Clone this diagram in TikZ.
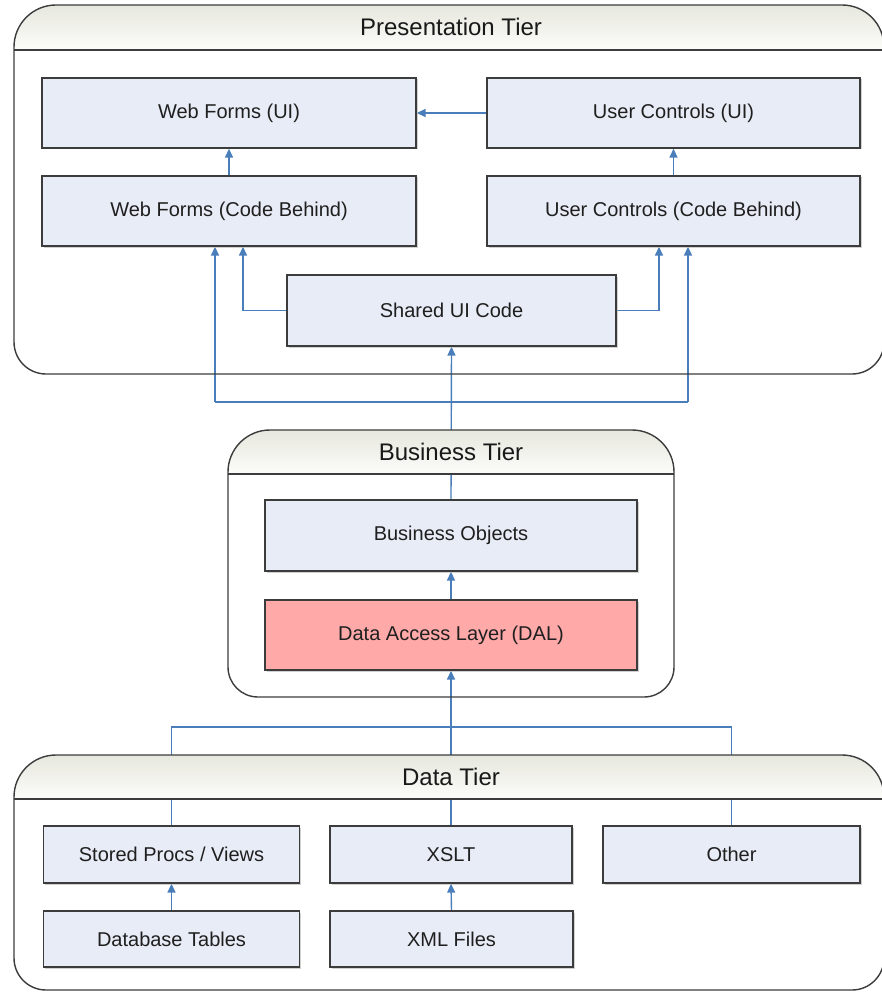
\documentclass[tikz,border=0pt]{standalone}
\usepackage{fontspec}
\setmainfont{Liberation Sans}
\usetikzlibrary{arrows.meta,shadows}
\definecolor{conncol}{HTML}{4A7EBB}
\definecolor{boxfill}{HTML}{E8ECF6}
\definecolor{boxline}{HTML}{3C3C3C}
\definecolor{dalfill}{HTML}{FFA9A9}
\definecolor{hdtop}{HTML}{E4E5DA}
\definecolor{hdbot}{HTML}{FCFCFA}
\pgfdeclarelayer{connlayer}
\pgfdeclarelayer{hdrlayer}
\pgfsetlayers{connlayer,hdrlayer,main}
\begin{document}
\begin{tikzpicture}[x=1pt,y=-1pt,
  box/.style={draw=boxline,line width=1.3pt,fill=boxfill,inner sep=0pt,
    font=\fontsize{20}{23}\selectfont,text=black!88,
    drop shadow={shadow xshift=1.5pt,shadow yshift=-1.5pt,fill=black!30,opacity=0.6}},
  hdr/.style={inner sep=0pt,font=\fontsize{24}{27}\selectfont,text=black!90},
  tierline/.style={draw=boxline,line width=1.4pt},
  arr/.style={draw=conncol,line width=1.4pt,-{Triangle[length=9pt,width=8pt]}},
  plain/.style={draw=conncol,line width=1.4pt}]
\useasboundingbox (0,0) rectangle (881,992);

% ---------- boxes ----------
\node[box,minimum width=374pt,minimum height=70pt] (wfui) at (229,113) {Web Forms (UI)};
\node[box,minimum width=373pt,minimum height=70pt] (ucui) at (673.5,113) {User Controls (UI)};
\node[box,minimum width=374pt,minimum height=70pt] (wfcb) at (229,211) {Web Forms (Code Behind)};
\node[box,minimum width=373pt,minimum height=70pt] (uccb) at (673.5,211) {User Controls (Code Behind)};
\node[box,minimum width=329pt,minimum height=71pt] (shared) at (451.5,310.5) {Shared UI Code};
\node[box,minimum width=372pt,minimum height=71pt] (bo) at (451,535.5) {Business Objects};
\node[box,fill=dalfill,minimum width=372pt,minimum height=70pt] (dal) at (451,635) {Data Access Layer (DAL)};
\node[box,minimum width=256pt,minimum height=57pt] (sp) at (171.5,854.5) {Stored Procs / Views};
\node[box,minimum width=242pt,minimum height=57pt] (xslt) at (451,854.5) {XSLT};
\node[box,minimum width=257pt,minimum height=57pt] (other) at (731.5,854.5) {Other};
\node[box,minimum width=256pt,minimum height=56pt] (dbt) at (171.5,939) {Database Tables};
\node[box,minimum width=243pt,minimum height=56pt] (xml) at (451.5,939) {XML Files};

% ---------- tier titles ----------
\node[hdr] (ptitle) at (451,27) {Presentation Tier};
\node[hdr] (btitle) at (451,452) {Business Tier};
\node[hdr] (dtitle) at (451,777) {Data Tier};

% ---------- connectors ----------
\begin{pgfonlayer}{connlayer}
\draw[arr] (ucui.west) -- (wfui.east);
\draw[arr] (wfcb.north) -- (wfui.south);
\draw[arr] (uccb.north) -- (ucui.south);
\draw[arr] (shared.west) -| ([xshift=14pt]wfcb.south);
\draw[arr] (shared.east) -| ([xshift=-14.5pt]uccb.south);
\draw[arr] (bo.north) -- (shared.south);
\coordinate (busL) at (215,402);
\coordinate (busR) at (688,402);
\draw[plain] (busL) -- (busR);
\draw[arr] (busL) -- ([xshift=-14pt]wfcb.south);
\draw[arr] (busR) -- ([xshift=14.5pt]uccb.south);
\draw[arr] (dal.north) -- (bo.south);
\draw[arr] (xslt.north) -- (dal.south);
\coordinate (dbusL) at (171.5,727);
\coordinate (dbusR) at (731.5,727);
\draw[plain] (sp.north) -- (dbusL) -- (dbusR) -- (other.north);
\draw[arr] (dbt.north) -- (sp.south);
\draw[arr] (xml.north) -- (xslt.south);
\end{pgfonlayer}

% ---------- tiers ----------
\begin{pgfonlayer}{hdrlayer}
% Presentation tier
\begin{scope}
\clip (14,47) .. controls (14,23.8) and (32.8,5) .. (56,5) -- (842,5) .. controls (865.2,5) and (884,23.8) .. (884,47) -- (884,342) .. controls (884,359.7) and (869.7,374) .. (852,374) -- (46,374) .. controls (28.3,374) and (14,359.7) .. (14,342) -- cycle;
\shade[top color=hdtop,bottom color=hdbot] (10,0) rectangle (890,50);
\end{scope}
\draw[tierline] (14,50) -- (884,50);
\draw[tierline] (14,47) .. controls (14,23.8) and (32.8,5) .. (56,5) -- (842,5) .. controls (865.2,5) and (884,23.8) .. (884,47) -- (884,342) .. controls (884,359.7) and (869.7,374) .. (852,374) -- (46,374) .. controls (28.3,374) and (14,359.7) .. (14,342) -- cycle;
% Business tier
\begin{scope}
\clip (228,472) .. controls (228,448.8) and (246.8,430) .. (270,430) -- (632,430) .. controls (655.2,430) and (674,448.8) .. (674,472) -- (674,667) .. controls (674,683.6) and (660.6,697) .. (644,697) -- (258,697) .. controls (241.4,697) and (228,683.6) .. (228,667) -- cycle;
\shade[top color=hdtop,bottom color=hdbot] (220,425) rectangle (680,474);
\end{scope}
\draw[tierline] (228,474) -- (674,474);
\draw[tierline] (228,472) .. controls (228,448.8) and (246.8,430) .. (270,430) -- (632,430) .. controls (655.2,430) and (674,448.8) .. (674,472) -- (674,667) .. controls (674,683.6) and (660.6,697) .. (644,697) -- (258,697) .. controls (241.4,697) and (228,683.6) .. (228,667) -- cycle;
% Data tier
\begin{scope}
\clip (14,797) .. controls (14,773.8) and (32.8,755) .. (56,755) -- (842,755) .. controls (865.2,755) and (884,773.8) .. (884,797) -- (884,958) .. controls (884,975.7) and (869.7,990) .. (852,990) -- (46,990) .. controls (28.3,990) and (14,975.7) .. (14,958) -- cycle;
\shade[top color=hdtop,bottom color=hdbot] (10,750) rectangle (890,799);
\end{scope}
\draw[tierline] (14,799) -- (884,799);
\draw[tierline] (14,797) .. controls (14,773.8) and (32.8,755) .. (56,755) -- (842,755) .. controls (865.2,755) and (884,773.8) .. (884,797) -- (884,958) .. controls (884,975.7) and (869.7,990) .. (852,990) -- (46,990) .. controls (28.3,990) and (14,975.7) .. (14,958) -- cycle;
\end{pgfonlayer}
\end{tikzpicture}
\end{document}
